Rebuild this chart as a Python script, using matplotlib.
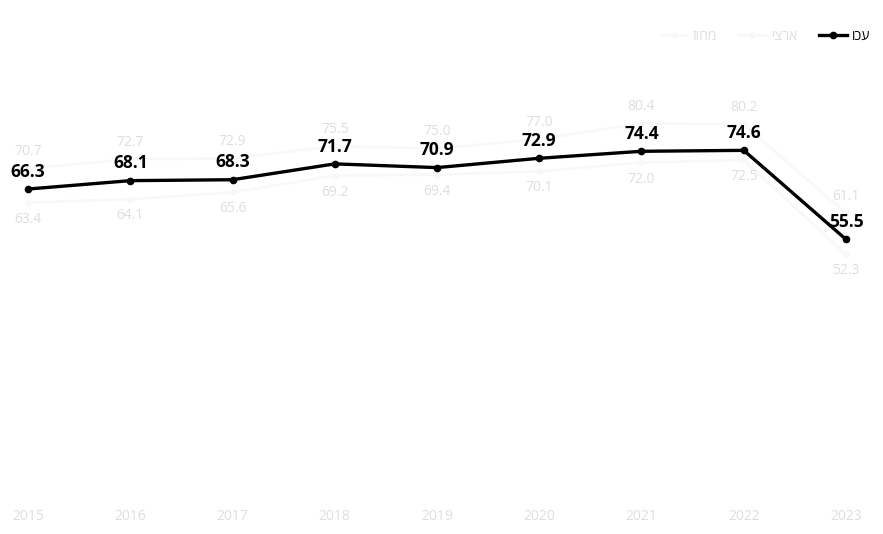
import matplotlib
matplotlib.use("Agg")
import matplotlib.pyplot as plt

plt.rcParams['font.family'] = ['Open Sans', 'DejaVu Sans']

# data
years = ['2015', '2016', '2017', '2018', '2019', '2020', '2021', '2022', '2023']
city = [66.3, 68.1, 68.3, 71.7, 70.9, 72.9, 74.4, 74.6, 55.5]
upper = [70.7, 72.7, 72.9, 75.5, 75.0, 77.0, 80.4, 80.2, 61.1]
lower = [63.4, 64.1, 65.6, 69.2, 69.4, 70.1, 72.0, 72.5, 52.3]

# hebrew is drawn right to left, so reverse the strings
names = {'city': 'עכו'[::-1], 'upper': 'ארצי'[::-1], 'lower': 'מחוז'[::-1]}

fig = plt.figure(figsize=(8.83, 5.34), dpi=100)
ax = fig.add_axes([0.0, 0.0674, 1.0, 0.8727])
x = list(range(len(years)))

faint_line = '#f8f8f8'
faint_text = '#dedede'

ax.plot(x, lower, color=faint_line, lw=2, marker='o', ms=4, label=names['lower'])
ax.plot(x, upper, color=faint_line, lw=2, marker='o', ms=4, label=names['upper'])
ax.plot(x, city, color='black', lw=2.4, marker='o', ms=4.5, label=names['city'], zorder=5)

for i in x:
    ax.annotate(f'{city[i]:.1f}', (i, city[i]), xytext=(0, 12.5), textcoords='offset points',
                ha='center', va='center', fontsize=12.5, fontweight='bold', color='black')
    ax.annotate(f'{upper[i]:.1f}', (i, upper[i]), xytext=(0, 12), textcoords='offset points',
                ha='center', va='center', fontsize=10, color=faint_text)
    ax.annotate(f'{lower[i]:.1f}', (i, lower[i]), xytext=(0, -12), textcoords='offset points',
                ha='center', va='center', fontsize=10, color=faint_text)

ax.set_xlim(-0.274, 8.362)
ax.set_ylim(0, 100)
ax.set_xticks(x)
ax.set_xticklabels(years, color=faint_text, fontsize=10)
ax.tick_params(axis='x', length=0, pad=8)
ax.set_yticks([])
for s in ax.spines.values():
    s.set_visible(False)

leg = fig.legend(loc='upper right', bbox_to_anchor=(1.0, 0.97), ncol=3, frameon=False,
                 fontsize=10, handlelength=2.0, columnspacing=1.5, handletextpad=0.4)
for t in leg.get_texts()[:2]:
    t.set_color(faint_text)

fig.savefig('out.png', dpi=100)
